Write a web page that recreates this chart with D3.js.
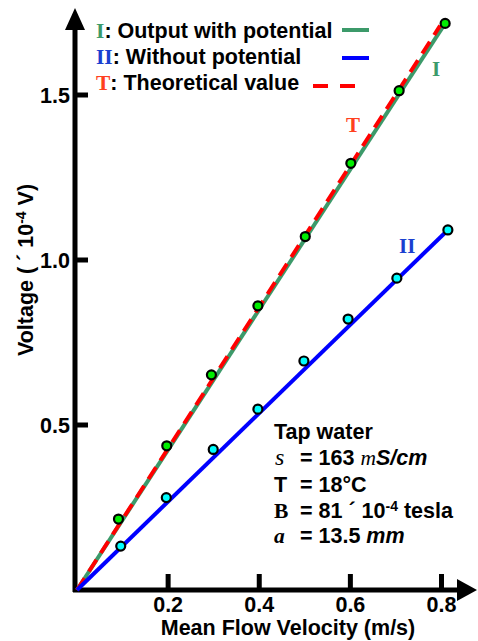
<!DOCTYPE html>
<html>
<head>
<meta charset="utf-8">
<script src="https://cdn.jsdelivr.net/npm/d3@7"></script>
<style>
  body { margin: 0; background: #fff; }
  svg text { font-family: "Liberation Sans", Arial, sans-serif; font-weight: bold; font-size: 21.5px; }
</style>
</head>
<body>
<script>
// velocity (m/s) and voltage (x 10^-4 V)
var velWith = [0.091, 0.197, 0.295, 0.397, 0.501, 0.601, 0.707, 0.808];
var voltWith = [0.215, 0.437, 0.652, 0.861, 1.071, 1.293, 1.513, 1.717];
var velWithout = [0.096, 0.196, 0.299, 0.397, 0.498, 0.595, 0.702, 0.814];
var voltWithout = [0.133, 0.280, 0.426, 0.548, 0.694, 0.821, 0.945, 1.091];
// fitted lines through the origin
var lineWith = [[0, 0], [0.808, 1.717]];
var lineWithout = [[0, 0], [0.814, 1.091]];
var lineTheory = [[0, 0], [0.797, 1.71]];
var xTicks = [0.2, 0.4, 0.6, 0.8];
var yTicks = [0.5, 1.0, 1.5];

var green = "#3c9a6a", blue = "#0000ff", red = "#ff0000";
var serif = "'Liberation Serif', serif";

var svg = d3.select("body").append("svg")
    .attr("width", 478)
    .attr("height", 641);

var x = d3.scaleLinear().domain([0, 0.8]).range([77, 441.5]);
var y = d3.scaleLinear().domain([0, 1.5]).range([590, 95]);

// axes, drawn by hand (arrows, inside ticks)
svg.append("line")
    .attr("x1", 73).attr("x2", 460)
    .attr("y1", y(0)).attr("y2", y(0))
    .style("stroke", "#000").style("stroke-width", 5);
svg.append("path")
    .attr("d", "M457," + (y(0) - 11) + "L477," + y(0) + "L457," + (y(0) + 11) + "Z")
    .style("fill", "#000");
svg.append("line")
    .attr("x1", 75).attr("x2", 75)
    .attr("y1", y(0) + 2).attr("y2", 28)
    .style("stroke", "#000").style("stroke-width", 5);
svg.append("path")
    .attr("d", "M65,30L75,8L85,30Z")
    .style("fill", "#000");

svg.selectAll(".xtick")
    .data(xTicks)
    .enter()
    .append("line")
    .attr("x1", function (d) { return x(d); })
    .attr("x2", function (d) { return x(d); })
    .attr("y1", y(0)).attr("y2", y(0) - 16)
    .style("stroke", "#000").style("stroke-width", 5);
svg.selectAll(".xlab")
    .data(xTicks)
    .enter()
    .append("text")
    .attr("x", function (d) { return x(d); })
    .attr("y", 612)
    .attr("text-anchor", "middle")
    .text(function (d) { return d3.format(".1f")(d); });

svg.selectAll(".ytick")
    .data(yTicks)
    .enter()
    .append("line")
    .attr("x1", 75).attr("x2", 88)
    .attr("y1", function (d) { return y(d); })
    .attr("y2", function (d) { return y(d); })
    .style("stroke", "#000").style("stroke-width", 5);
svg.selectAll(".ylab")
    .data(yTicks)
    .enter()
    .append("text")
    .attr("x", 70)
    .attr("y", function (d) { return y(d) + 8; })
    .attr("text-anchor", "end")
    .text(function (d) { return d3.format(".1f")(d); });

svg.append("text")
    .attr("x", 288).attr("y", 635)
    .attr("text-anchor", "middle")
    .text("Mean Flow Velocity (m/s)");

var yTitle = svg.append("text")
    .attr("transform", "translate(33,270) rotate(-90)")
    .attr("text-anchor", "middle");
yTitle.append("tspan").text("Voltage ( \u00B4  10");
yTitle.append("tspan").attr("dy", -7).style("font-size", "14px").text("-4");
yTitle.append("tspan").attr("dy", 7).text(" V)");

// lines
var line = d3.line()
    .x(function (d) { return x(d[0]); })
    .y(function (d) { return y(d[1]); });

svg.append("path").datum(lineWith).attr("d", line)
    .style("fill", "none").style("stroke", green).style("stroke-width", 4);
svg.append("path").datum(lineTheory).attr("d", line)
    .style("fill", "none").style("stroke", red).style("stroke-width", 4)
    .style("stroke-dasharray", "14,8");
svg.append("path").datum(lineWithout).attr("d", line)
    .style("fill", "none").style("stroke", blue).style("stroke-width", 4);

// points
var ptsWith = velWith.map(function (v, i) { return {v: v, u: voltWith[i]}; });
var ptsWithout = velWithout.map(function (v, i) { return {v: v, u: voltWithout[i]}; });

svg.selectAll(".pw")
    .data(ptsWith)
    .enter()
    .append("circle")
    .attr("cx", function (d) { return x(d.v); })
    .attr("cy", function (d) { return y(d.u); })
    .attr("r", 4.5)
    .style("fill", "#00ee00").style("stroke", "#000").style("stroke-width", 2.2);
svg.selectAll(".pwo")
    .data(ptsWithout)
    .enter()
    .append("circle")
    .attr("cx", function (d) { return x(d.v); })
    .attr("cy", function (d) { return y(d.u); })
    .attr("r", 4.5)
    .style("fill", "#00ffff").style("stroke", "#000").style("stroke-width", 2.2);

// legend
function legendRow(yy, sym, col, label) {
    var t = svg.append("text").attr("x", 96).attr("y", yy);
    t.append("tspan").style("font-family", serif).style("fill", col).text(sym);
    t.append("tspan").text(": " + label);
}
legendRow(38, "I", green, "Output with potential");
legendRow(64, "II", "#1a3fd0", "Without potential");
legendRow(90, "T", "#ff4020", "Theoretical value");

svg.append("line").attr("x1", 342).attr("x2", 369).attr("y1", 30).attr("y2", 30)
    .style("stroke", green).style("stroke-width", 4);
svg.append("line").attr("x1", 342).attr("x2", 369).attr("y1", 58).attr("y2", 58)
    .style("stroke", blue).style("stroke-width", 4);
svg.append("line").attr("x1", 313).attr("x2", 357).attr("y1", 86).attr("y2", 86)
    .style("stroke", red).style("stroke-width", 4).style("stroke-dasharray", "15,12");

// labels on the lines
svg.append("text").attr("x", 432).attr("y", 76)
    .style("font-family", serif).style("font-size", "21px")
    .style("fill", green).text("I");
svg.append("text").attr("x", 346).attr("y", 132)
    .style("font-family", serif).style("font-size", "21px")
    .style("fill", "#ff4020").text("T");
svg.append("text").attr("x", 399).attr("y", 253)
    .style("font-family", serif).style("font-size", "21px")
    .style("fill", "#1a3fd0").text("II");

// conditions
svg.append("text").attr("x", 274).attr("y", 439).text("Tap water");

var r1 = svg.append("text").attr("y", 465);
r1.append("tspan").attr("x", 275).style("font-family", serif).style("font-weight", "normal")
    .style("font-style", "italic").style("font-size", "24px").text("s");
r1.append("tspan").attr("x", 300).text("= 163 ");
r1.append("tspan").style("font-family", serif).style("font-weight", "normal")
    .style("font-style", "italic").text("m");
r1.append("tspan").style("font-style", "italic").text("S/cm");

var r2 = svg.append("text").attr("y", 492);
r2.append("tspan").attr("x", 274).text("T");
r2.append("tspan").attr("x", 300).text("= 18\u00B0C");

var r3 = svg.append("text").attr("y", 518);
r3.append("tspan").attr("x", 274).style("font-family", serif).text("B");
r3.append("tspan").attr("x", 300).text("= 81  \u00B4  10");
r3.append("tspan").attr("dy", -7).style("font-size", "14px").text("-4");
r3.append("tspan").attr("dy", 7).text(" tesla");

var r4 = svg.append("text").attr("y", 543);
r4.append("tspan").attr("x", 274).style("font-family", serif).style("font-style", "italic").text("a");
r4.append("tspan").attr("x", 300).text("= 13.5 ");
r4.append("tspan").style("font-style", "italic").text("mm");
</script>
</body>
</html>
